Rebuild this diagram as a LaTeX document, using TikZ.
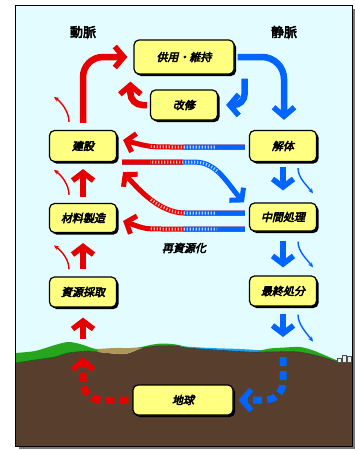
\documentclass[tikz,border=0pt]{standalone}
\usepackage{fontspec}
\newfontfamily\jpbi[FakeBold=4,FakeSlant=0.22]{Noto Sans CJK JP}
\newfontfamily\jpb[FakeBold=4]{Noto Sans CJK JP}
\usetikzlibrary{arrows.meta,shadows,calc}

\definecolor{flowred}{RGB}{230,0,0}
\definecolor{flowblue}{RGB}{0,100,255}
\definecolor{boxyellow}{RGB}{255,255,128}
\definecolor{skycyan}{RGB}{226,252,255}
\definecolor{framegray}{RGB}{120,120,120}
\definecolor{soil}{RGB}{88,62,44}
\definecolor{grass}{RGB}{40,165,30}
\definecolor{grassdark}{RGB}{0,95,0}
\definecolor{water}{RGB}{30,160,230}
\definecolor{dirt}{RGB}{176,150,90}

\tikzset{
  box/.style={draw=black, line width=1.2pt, fill=boxyellow, rounded corners=5pt,
    minimum width=67pt, minimum height=30pt, inner sep=0pt,
    font=\jpbi\fontsize{11}{13}\selectfont,
    drop shadow={shadow xshift=2pt, shadow yshift=-2pt, fill=black, opacity=1}},
  sidelabel/.style={font=\jpb\fontsize{13}{15}\selectfont},
  chev/.tip={Straight Barb[length=9pt,width=21pt,line width=5.5pt]},
  smallchev/.tip={Straight Barb[length=8pt,width=19pt,line width=5pt]},
  mainflow/.style={line width=6.5pt, -{chev}},
  hflow/.style={line width=5pt, -{smallchev}},
  hplain/.style={line width=5pt},
  fadeover/.style={draw=white, line width=3pt, dash pattern=on 1.2pt off 1.8pt, opacity=0.7},
  blockup/.style={line width=5.5pt, -{Straight Barb[length=8pt,width=21pt,line width=5.5pt]}},
  thinflow/.style={line width=1.4pt, -{Stealth[length=5pt,width=4.5pt]}},
  dashflow/.style={line width=7pt, dash pattern=on 9pt off 5pt, -{chev}},
}

\begin{document}
\begin{tikzpicture}[x=1pt,y=-1pt]
\useasboundingbox (0,0) rectangle (355,450);

% panel with its shadow
\fill[framegray] (19,9) rectangle (355,449);
\fill[skycyan] (15,5) rectangle (352,446);

% landscape
\begin{scope}
  \clip (15,5) rectangle (352,446);
  \fill[soil] plot[smooth] coordinates {(15,363) (35,360) (55,357) (68,353) (88,351) (98,352) (125,354) (142,348) (158,346) (178,346) (188,348) (248,352) (268,352) (298,352) (322,357) (335,361) (352,363)}
    -- (352,446) -- (15,446) -- cycle;
  % left hill grass
  \fill[grass] plot[smooth] coordinates {(15,353) (35,351) (55,345) (68,342) (80,344) (92,348) (100,350)}
    -- plot[smooth] coordinates {(100,352) (88,351) (68,353) (55,357) (35,360) (15,363)} -- cycle;
  % bare path between the hills
  \fill[dirt] plot[smooth] coordinates {(98,349) (115,348) (130,348) (142,347)}
    -- plot[smooth] coordinates {(142,348) (125,354) (108,353) (98,352)} -- cycle;
  % middle hill grass
  \fill[grass] plot[smooth] coordinates {(138,348) (150,345) (162,343.5) (176,344.5) (187,347)}
    -- plot[smooth] coordinates {(187,348) (178,346) (158,346) (142,348)} -- cycle;
  % pond
  \fill[water] plot[smooth] coordinates {(184,346.5) (210,348) (240,349) (264,350.5)}
    -- plot[smooth] coordinates {(264,352) (248,352) (220,350.5) (188,348)} -- cycle;
  % right hill grass
  \fill[grass] plot[smooth] coordinates {(258,351) (270,348.5) (285,347.5) (300,347) (312,350) (322,354) (335,359.5) (341,361.5)}
    -- plot[smooth] coordinates {(341,362) (335,361) (322,357) (298,352) (268,352) (258,352)} -- cycle;
  \draw[grassdark, line width=0.6pt] plot[smooth] coordinates {(15,363) (35,360) (55,357) (68,353) (88,351) (98,352)};
  \draw[black!80, line width=0.6pt] plot[smooth] coordinates {(142,348) (158,346) (178,346) (188,348) (248,352) (268,352) (298,352) (322,357) (335,361) (352,363)};
  % small buildings on the right
  \filldraw[fill=white!85!gray, draw=black!70, line width=0.4pt] (337,358) rectangle (341,362.5);
  \filldraw[fill=white!85!gray, draw=black!70, line width=0.4pt] (342,355.5) rectangle (346,362.5);
  \filldraw[fill=white!85!gray, draw=black!70, line width=0.4pt] (347,356.5) rectangle (351,362.5);
\end{scope}
\draw[line width=0.8pt] (15,5) rectangle (352,446);

% headings
\node[sidelabel] (artery) at (83,32) {動脈};
\node[sidelabel] (vein) at (284,32) {静脈};

% stages
\node[box, minimum width=100pt, minimum height=34pt] (use) at (184,57) {供用・維持};
\node[box, minimum height=30pt] (kai) at (184,105) {改修};
\node[box, minimum height=31pt] (ken) at (83,146) {建設};
\node[box, minimum height=31pt] (kaitai) at (283,146) {解体};
\node[box, minimum height=29pt] (zai) at (83,218) {材料製造};
\node[box, minimum height=28pt] (chu) at (283,217) {中間処理};
\node[box, minimum height=30pt] (shi) at (83,292) {資源採取};
\node[box, minimum height=30pt] (sai) at (283,291) {最終処分};
\node[box, minimum width=100pt, minimum height=30pt] (chi) at (183,400) {地球};
\node[font=\jpbi\fontsize{11}{13}\selectfont] (recyc) at (184,248) {再資源化};

% ground points where the earth-side flows meet the surface
\coordinate (gL) at (83,339);
\coordinate (gLin) at (83,357);
\coordinate (gR) at (283,357);
\coordinate (gRt) at (283,337);

% main loop around use and maintenance
\draw[mainflow, flowred, rounded corners=20pt] ($(ken.north)+(0,-7)$) |- ($(use.west)+(-6,0)$);
\draw[mainflow, flowblue, rounded corners=22pt] ($(use.east)+(3,0)$) -| ($(kaitai.north)+(1,-10)$);
\draw[mainflow, flowred, rounded corners=12pt] ($(kai.west)+(-3,0)$) -| ($(use.south west)+(-3,7)$);
\draw[mainflow, flowblue, rounded corners=11pt] ($(use.south east)+(10,4)$) |- ($(kai.east)+(8,0)$);

% recycling flows between the two columns
\draw[hflow, flowred] ($(kaitai.west)+(-4,1)$) -- ++(-70,0) .. controls +(-25,0) .. ($(ken.east)+(6,-6)$);
\begin{scope}\clip (183,120) rectangle (260,240);
  \draw[hplain, flowblue] ($(kaitai.west)+(-4,1)$) -- ++(-70,0) .. controls +(-25,0) .. ($(ken.east)+(6,-6)$);
\end{scope}
\begin{scope}\clip (150,120) rectangle (215,240);
  \draw[fadeover] ($(kaitai.west)+(-4,1)$) -- ++(-70,0) .. controls +(-25,0) .. ($(ken.east)+(6,-6)$);
\end{scope}

\draw[hflow, flowblue] ($(ken.south east)+(5,0)$) -- ++(73,0) .. controls +(22,0) and +(-16,-18) .. ($(chu.north west)+(-5,0)$);
\begin{scope}\clip (110,120) rectangle (183,240);
  \draw[hplain, flowred] ($(ken.south east)+(5,0)$) -- ++(73,0) .. controls +(22,0) and +(-16,-18) .. ($(chu.north west)+(-5,0)$);
\end{scope}
\begin{scope}\clip (150,120) rectangle (218,240);
  \draw[fadeover] ($(ken.south east)+(5,0)$) -- ++(73,0) .. controls +(22,0) and +(-16,-18) .. ($(chu.north west)+(-5,0)$);
\end{scope}

\draw[hflow, flowred] ($(chu.west)+(-4,-4)$) -- ++(-60,0) .. controls +(-25,0) and +(16,18) .. ($(ken.south east)+(6,10)$);
\begin{scope}\clip (183,120) rectangle (260,240);
  \draw[hplain, flowblue] ($(chu.west)+(-4,-4)$) -- ++(-60,0) .. controls +(-25,0) and +(16,18) .. ($(ken.south east)+(6,10)$);
\end{scope}
\begin{scope}\clip (150,120) rectangle (215,240);
  \draw[fadeover] ($(chu.west)+(-4,-4)$) -- ++(-60,0) .. controls +(-25,0) and +(16,18) .. ($(ken.south east)+(6,10)$);
\end{scope}

\draw[hflow, flowred] ($(chu.west)+(-4,12)$) -- ++(-80,0) .. controls +(-20,0) .. ($(zai.east)+(6,3)$);
\begin{scope}\clip (183,120) rectangle (260,240);
  \draw[hplain, flowblue] ($(chu.west)+(-4,12)$) -- ++(-80,0) .. controls +(-20,0) .. ($(zai.east)+(6,3)$);
\end{scope}
\begin{scope}\clip (150,120) rectangle (217,240);
  \draw[fadeover] ($(chu.west)+(-4,12)$) -- ++(-80,0) .. controls +(-20,0) .. ($(zai.east)+(6,3)$);
\end{scope}

% upward flows on the artery side
\draw[blockup, flowred] ($(zai.north)+(0,-6)$) -- ($(ken.south)+(0,7)$);
\draw[blockup, flowred] ($(shi.north)+(0,-7)$) -- ($(zai.south)+(0,10)$);
\draw[blockup, flowred] (gL) -- ($(shi.south)+(0,10)$);
\draw[thinflow, flowred] ($(ken.north)+(-14,-8)$) .. controls +(0,-10) and +(8,6) .. ($(ken.north)+(-29,-33)$);
\draw[thinflow, flowred] ($(zai.north)+(-14,-8)$) .. controls +(0,-10) and +(8,6) .. ($(zai.north)+(-29,-33)$);
\draw[thinflow, flowred] ($(shi.north)+(-14,-7)$) .. controls +(0,-10) and +(8,6) .. ($(shi.north)+(-29,-31)$);

% downward flows on the vein side
\draw[blockup, flowblue] ($(kaitai.south)+(0,5)$) -- ($(chu.north)+(0,-12)$);
\draw[blockup, flowblue] ($(chu.south)+(0,9)$) -- ($(sai.north)+(0,-8)$);
\draw[blockup, flowblue] ($(sai.south)+(0,7)$) -- (gRt);
\draw[thinflow, flowblue] ($(kaitai.south)+(15,6)$) .. controls +(0,10) and +(-6,-8) .. ($(chu.north)+(30,-9)$);
\draw[thinflow, flowblue] ($(chu.south)+(15,10)$) .. controls +(0,10) and +(-6,-8) .. ($(sai.north)+(30,-8)$);
\draw[thinflow, flowblue] ($(sai.south)+(15,8)$) .. controls +(0,10) and +(-6,-8) .. ($(sai.south)+(30,35)$);

% flows through the earth
\draw[dashflow, flowred, rounded corners=18pt] ($(chi.west)+(-4,0)$) -| (gLin);
\draw[dashflow, flowblue, rounded corners=18pt] (gR) |- ($(chi.east)+(5,0)$);
\end{tikzpicture}
\end{document}
